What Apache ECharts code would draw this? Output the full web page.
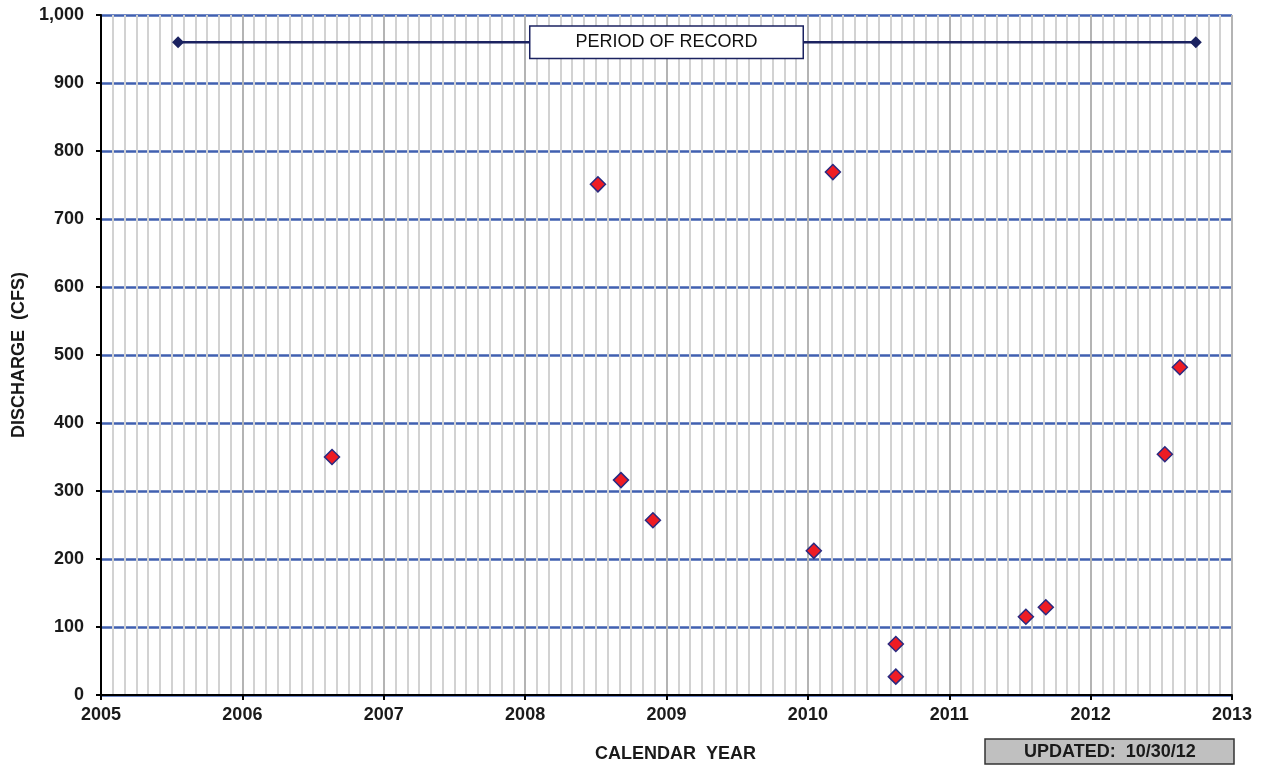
<!DOCTYPE html>
<html>
<head>
<meta charset="utf-8">
<script src="https://cdn.jsdelivr.net/npm/echarts@6/dist/echarts.min.js"></script>
<style>html,body{margin:0;padding:0;background:#fff;}#c{width:1266px;height:769px;}</style>
</head>
<body>
<div id="c"></div>
<script>
// Measurement dates (decimal years) and discharge (cfs)
const sampleYears = [2006.634, 2008.515, 2008.678, 2008.904, 2010.042, 2010.177, 2010.622, 2010.622, 2011.542, 2011.683, 2012.525, 2012.631];
const dischargeCfs = [350, 751, 316, 257, 212, 769, 75, 27, 115, 129, 354, 482];
// Period of record line
const periodYears = [2005.545, 2012.744];
const periodLevel = 960;
const periodLabelYear = 2009.0;
const periodLabelText = 'PERIOD OF RECORD';
const updatedText = 'UPDATED:  10/30/12';
const xTitle = 'CALENDAR  YEAR';
const yTitle = 'DISCHARGE  (CFS)';

const FONT = '"Liberation Sans", Arial, sans-serif';
const chart = echarts.init(document.getElementById('c'), null, {renderer: 'canvas'});
chart.setOption({
  animation: false,
  backgroundColor: '#ffffff',
  title: {
    text: updatedText,
    left: 985, top: 739,
    backgroundColor: '#c0c0c0',
    borderColor: '#333333', borderWidth: 1.5,
    padding: [4, 39, 3, 39],
    textStyle: {fontFamily: FONT, fontSize: 18, fontWeight: 'bold', color: '#1a1a1a', lineHeight: 18}
  },
  grid: {left: 101, right: 34, top: 15, bottom: 74, containLabel: false},
  xAxis: {
    type: 'value', min: 2005, max: 2013, interval: 1,
    name: xTitle, nameLocation: 'middle', nameGap: 50,
    nameTextStyle: {fontFamily: FONT, fontSize: 18, fontWeight: 'bold', color: '#1a1a1a', padding: [0, 0, 0, 18]},
    axisLine: {show: true, onZero: false, lineStyle: {color: '#000', width: 2}},
    axisTick: {show: true, inside: false, length: 5, lineStyle: {color: '#000', width: 2}},
    axisLabel: {fontFamily: FONT, fontSize: 18, fontWeight: 'bold', color: '#1a1a1a', margin: 11, formatter: v => String(v)},
    splitLine: {show: true, lineStyle: {color: '#b4b4b4', width: 2}},
    minorTick: {show: false, splitNumber: 12},
    minorSplitLine: {show: true, lineStyle: {color: '#d2d2d2', width: 2}}
  },
  yAxis: {
    type: 'value', min: 0, max: 1000, interval: 100,
    name: yTitle, nameLocation: 'middle', nameGap: 72, nameRotate: 90,
    nameTextStyle: {fontFamily: FONT, fontSize: 18, fontWeight: 'bold', color: '#1a1a1a'},
    axisLine: {show: true, lineStyle: {color: '#000', width: 2}},
    axisTick: {show: true, inside: false, length: 5, lineStyle: {color: '#000', width: 2}},
    axisLabel: {fontFamily: FONT, fontSize: 18, fontWeight: 'bold', color: '#1a1a1a', margin: 17,
      formatter: v => v.toLocaleString('en-US')},
    splitLine: {show: true, lineStyle: {color: '#4060b0', width: 2.5}}
  },
  series: [
    {
      type: 'line', z: 3,
      data: periodYears.map(x => [x, periodLevel]),
      symbol: 'diamond', symbolSize: 12, showAllSymbol: true,
      lineStyle: {color: '#1b2260', width: 2.5},
      itemStyle: {color: '#1b2260'}
    },
    {
      type: 'scatter', z: 6,
      data: [[periodLabelYear, periodLevel]],
      symbol: 'circle', symbolSize: 0,
      itemStyle: {opacity: 1},
      label: {show: true, position: 'inside', formatter: periodLabelText,
        fontFamily: FONT, fontSize: 18, color: '#111111', lineHeight: 18,
        backgroundColor: '#ffffff', borderColor: '#1b2260', borderWidth: 1.5,
        padding: [7, 45, 6, 45]}
    },
    {
      type: 'scatter', z: 5,
      data: sampleYears.map((x, i) => [x, dischargeCfs[i]]),
      symbol: 'diamond', symbolSize: 15,
      itemStyle: {color: '#ee1c24', borderColor: '#2a2a80', borderWidth: 1.5, opacity: 1}
    }
  ]
});
</script>
</body>
</html>
